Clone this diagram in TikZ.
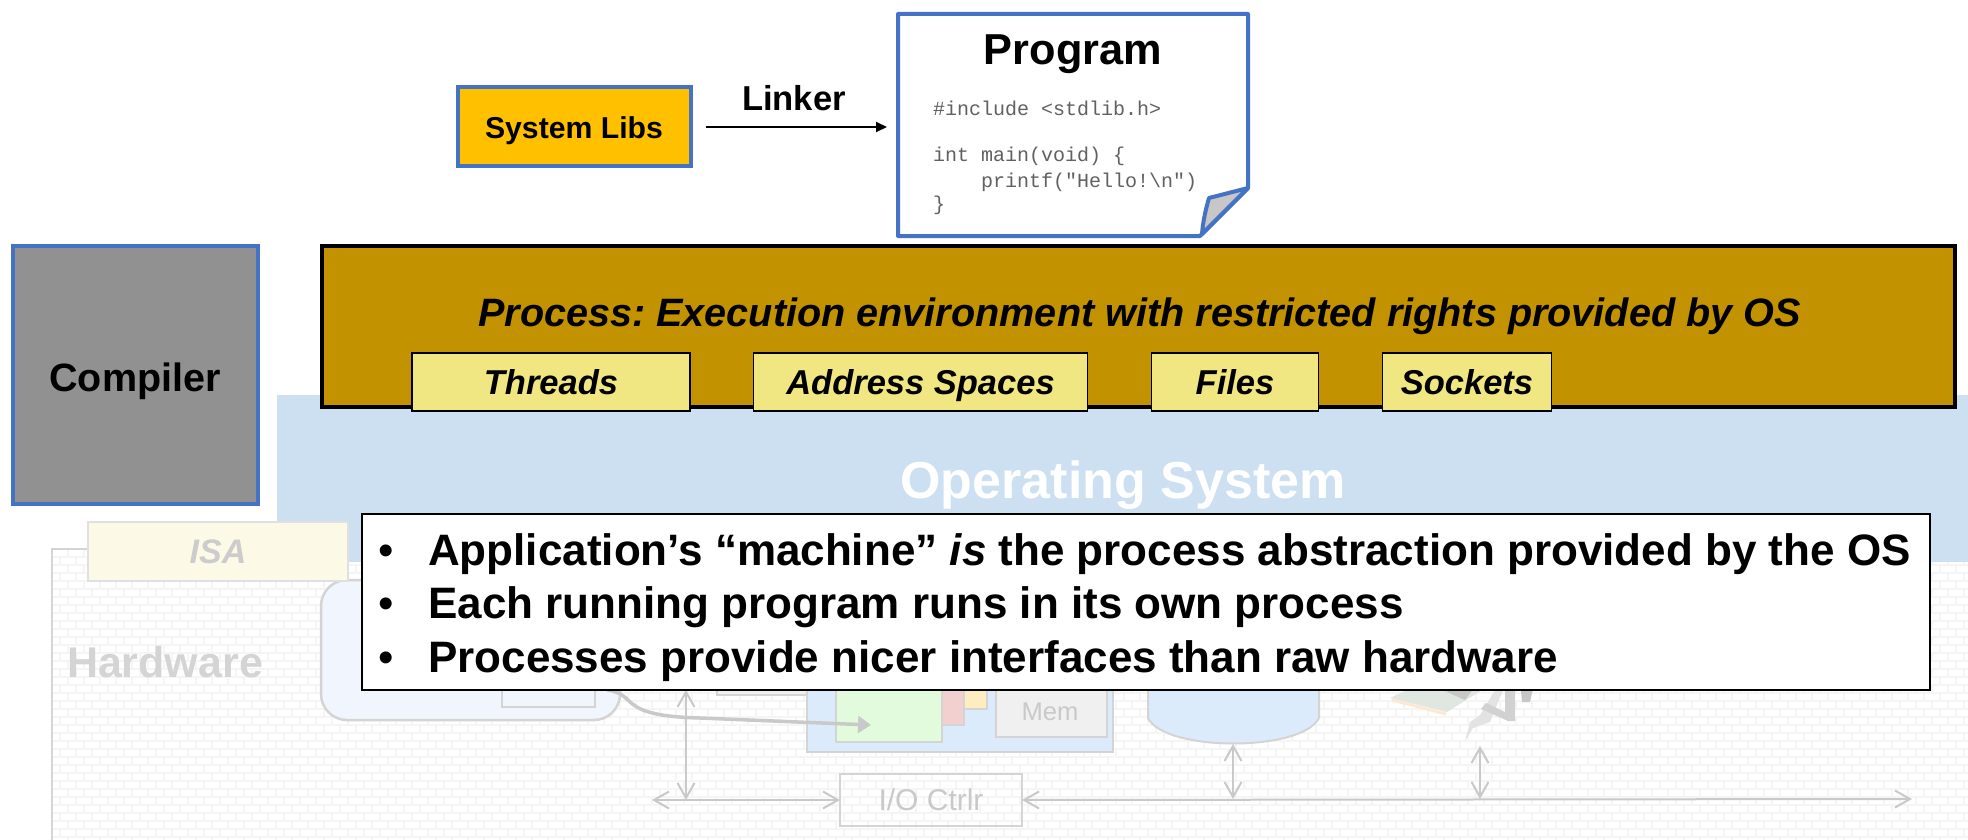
\documentclass[tikz,border=0pt]{standalone}
\usepackage{fontspec}
\setmainfont{Liberation Sans}
\setmonofont{Liberation Mono}
\usetikzlibrary{arrows.meta,calc}
\definecolor{bluebd}{HTML}{4472C4}
\definecolor{gold}{HTML}{C29200}
\definecolor{paleyellow}{HTML}{F0E682}
\definecolor{osblue}{HTML}{CCE0F1}
\definecolor{faint}{HTML}{C9C9C9}
\definecolor{brick}{HTML}{F5F5F5}
\definecolor{libsfill}{HTML}{FFC000}
\definecolor{ghostblue}{HTML}{DCEBFC}
\definecolor{ghostgreen}{HTML}{E3FBDD}
\definecolor{ghostred}{HTML}{F2D0D0}
\definecolor{ghostyellow}{HTML}{FDEDC0}
\definecolor{ghostcpu}{HTML}{F1F6FE}
\definecolor{ghostisa}{HTML}{FCF9E6}
\newcommand{\fs}[1]{\fontsize{#1}{#1}\selectfont}
\frenchspacing
\tikzset{
  pbox/.style={anchor=north west,inner sep=0pt,outer sep=0pt,minimum width=#1},
  tag/.style={rectangle,draw=black,line width=1.8pt,fill=paleyellow,inner sep=0pt,outer sep=0pt,minimum height=58pt,text height=24.7pt,text depth=0pt,font=\fs{34.5}\bfseries\itshape},
  garrow/.style={faint,line width=2pt,{Straight Barb[length=15pt,width=17pt]}-{Straight Barb[length=15pt,width=17pt]}},
  codeline/.style={anchor=west,inner sep=0pt,text=black!62,font=\fs{20}\ttfamily},
  bul/.style={anchor=base,inner sep=0pt,font=\fs{44}},
  lin/.style={anchor=base west,inner sep=0pt,font=\fs{44}\bfseries}
}
\begin{document}
\begin{tikzpicture}[x=1pt,y=-1pt]
\useasboundingbox (0,0) rectangle (1968,840);
\fill[white] (0,0) rectangle (1968,840);
% --- hardware brick wall
\begin{scope}
\clip (52,549) rectangle (1968,840);
\foreach \r in {0,...,36}{
  \draw[brick,line width=1.6pt] (52,549+8*\r) -- (1968,549+8*\r);
  \pgfmathsetmacro{\off}{mod(\r,2)*8}
  \foreach \c in {0,...,120}{
    \draw[brick,line width=1.6pt] (52+\off+16*\c,549+8*\r) -- ++(0,8);
  }
}
\end{scope}
\draw[faint!80,line width=2.5pt] (52,840) -- (52,549) -- (120,549);
% --- operating system band
\node[pbox=1691pt,minimum height=167pt,fill=osblue] (os) at (277,395) {};
\node[font=\fs{52}\bfseries,text=white,inner sep=0pt] (ostext) at (1123,485) {Operating System};
% --- hardware contents
\node[pbox=299pt,minimum height=140pt,rounded corners=26pt,draw=faint!80,line width=2.5pt,fill=ghostcpu] (cpu) at (321,580) {};
\node[pbox=93pt,minimum height=30pt,draw=faint!80,line width=2pt,fill=ghostcpu] (reg) at (502,677) {};
\node[pbox=106pt,minimum height=25pt,draw=faint!80,line width=2.5pt,fill=black!6] (alu) at (717,670) {};
\node[pbox=306pt,minimum height=90pt,draw=faint!80,line width=2.5pt,fill=ghostblue] (memsys) at (807,662) {};
\node[pbox=151pt,minimum height=50pt,draw=faint!80,line width=2.2pt,fill=ghostyellow] (cacheC) at (836,659) {};
\node[pbox=128pt,minimum height=66pt,draw=faint!80,line width=2.2pt,fill=ghostred] (cacheB) at (836,659) {};
\node[pbox=106pt,minimum height=83pt,draw=faint!80,line width=2.2pt,fill=ghostgreen] (cacheA) at (836,659) {};
\node[pbox=111pt,minimum height=77pt,draw=faint!80,line width=2.5pt,fill=black!6] (mem) at (996,660) {};
\node[font=\fs{25.6},text=faint,inner sep=0pt] (memtext) at (1050,712) {Mem};
% disk
\fill[ghostblue,draw=faint!80,line width=2pt] (1148,660) -- (1148,718) .. controls (1165,752) and (1302,752) .. (1319,718) -- (1319,660);
\coordinate (diskb) at (1233,744);
% nic card
\fill[green!20!black!12!white] (1390,698) -- (1447,712) -- (1490,685) -- (1430,680) -- cycle;
\fill[black!22] (1420,680) -- (1480,680) -- (1465,700) -- cycle;
\draw[orange!18!white,line width=3pt] (1392,700) -- (1446,714);
\fill[black!11] (1465,741) -- (1470,722) -- (1480,715) -- (1495,690) -- (1503,690) -- (1490,722) -- (1473,728) -- cycle;
\fill[black!18] (1481,709) -- (1508,721) -- (1515,721) -- (1515,685) -- (1505,685) -- (1505,712) -- (1486,703) -- cycle;
\fill[black!22] (1520,680) -- (1535,680) -- (1530,702) -- (1522,702) -- cycle;
\coordinate (nicb) at (1480,746);
% i/o controller and buses
\node[pbox=182pt,minimum height=52pt,draw=faint!80,line width=2pt] (ioc) at (840,774) {};
\node[font=\fs{30},text=faint,inner sep=0pt] (ioctext) at (931,800) {I/O Ctrlr};
\coordinate (busL) at (652,800);
\coordinate (busR) at (1912,799);
\coordinate (cpub) at (686,690);
\draw[garrow] (busL) -- (ioc.west);
\draw[garrow] (ioc.east) -- (busR);
\draw[garrow] (cpub) -- (cpub |- ioc.west);
\draw[garrow] (diskb) -- (diskb |- busR);
\draw[garrow] (nicb) -- (nicb |- busR);
\coordinate (flowS) at (607,690);
\coordinate (flowE) at (871,725);
\draw[faint,line width=3.5pt,-{Triangle[length=13pt,width=17pt]}] (flowS) .. controls (640,695) and (615,716) .. (700,718) -- (flowE);
% ISA and hardware labels
\node[pbox=260pt,minimum height=59pt,draw=black!12,line width=2pt,fill=ghostisa] (isa) at (88,522) {};
\node[font=\fs{34}\bfseries\itshape,text=black!20,inner sep=0pt] (isatext) at (218,552) {ISA};
\node[font=\fs{43}\bfseries,text=black!17,inner sep=0pt] (hw) at (165,662) {Hardware};
% --- compiler
\node[pbox=245pt,minimum height=258pt,draw=bluebd,line width=4pt,fill=black!43] (compiler) at (13,246) {};
\node[font=\fs{39.5}\bfseries,inner sep=0pt] (comptext) at (135,381) {Compiler};
% --- process
\node[pbox=1633pt,minimum height=161pt,draw=black,line width=4pt,fill=gold] (proc) at (322,246) {};
\node[font=\fs{39.6}\bfseries\itshape,inner sep=0pt,anchor=base] (proctext) at (1139.5,326) {Process: Execution environment with restricted rights provided by OS};
\node[tag,minimum width=278pt] (threads) at (551,382) {Threads};
\node[tag,minimum width=334pt] (addr) at (920.5,382) {Address Spaces};
\node[tag,minimum width=167pt] (files) at (1235,382) {Files};
\node[tag,minimum width=169pt] (sockets) at (1467,382) {Sockets};
% --- system libs, linker, program
\node[pbox=233pt,minimum height=79pt,draw=bluebd,line width=4pt,fill=libsfill] (libs) at (457.5,87.5) {};
\node[font=\fs{30.2}\bfseries,inner sep=0pt] (libstext) at (574,131) {System Libs};
\node[font=\fs{34.6}\bfseries,inner sep=0pt] (linker) at (794,98) {Linker};
\draw[fill=white,draw=bluebd,line width=4pt,line join=round] (898,14) -- (1248,14) -- (1248,188) -- (1200,236) -- (898,236) -- cycle;
\draw[fill=black!22,draw=bluebd,line width=4pt,line join=round] (1248,188) -- (1209,198) .. controls (1205,212) and (1203,222) .. (1202,234) -- cycle;
\node[pbox=350pt,minimum height=222pt] (prog) at (898,14) {};
\node[font=\fs{43.3}\bfseries,inner sep=0pt,anchor=base] (progtitle) at (1073,65) {Program};
\node[codeline] (c1) at (933,108) {\#include <stdlib.h>};
\node[codeline] (c2) at (933,156) {int main(void) \{};
\node[codeline] (c3) at (933,182) {\ \ \ \ printf("Hello!\textbackslash n")};
\node[codeline] (c4) at (933,205) {\}};
\draw[black,line width=2pt,-{Triangle[length=11pt,width=10pt]},shorten <=15pt,shorten >=11pt] (libs.east) -- (libs.east -| prog.west);
% --- callout
\node[pbox=1568pt,minimum height=176pt,draw=black,line width=2pt,fill=white] (callout) at (362,514) {};
\node[bul] (b1) at (386,565) {•};
\node[bul] (b2) at (386,618) {•};
\node[bul] (b3) at (386,672) {•};
\node[lin] (l1) at (428,565) {Application’s “machine” \textit{is} the process abstraction provided by the OS};
\node[lin] (l2) at (428,618) {Each running program runs in its own process};
\node[lin] (l3) at (428,672) {Processes provide nicer interfaces than raw hardware};
\end{tikzpicture}
\end{document}
